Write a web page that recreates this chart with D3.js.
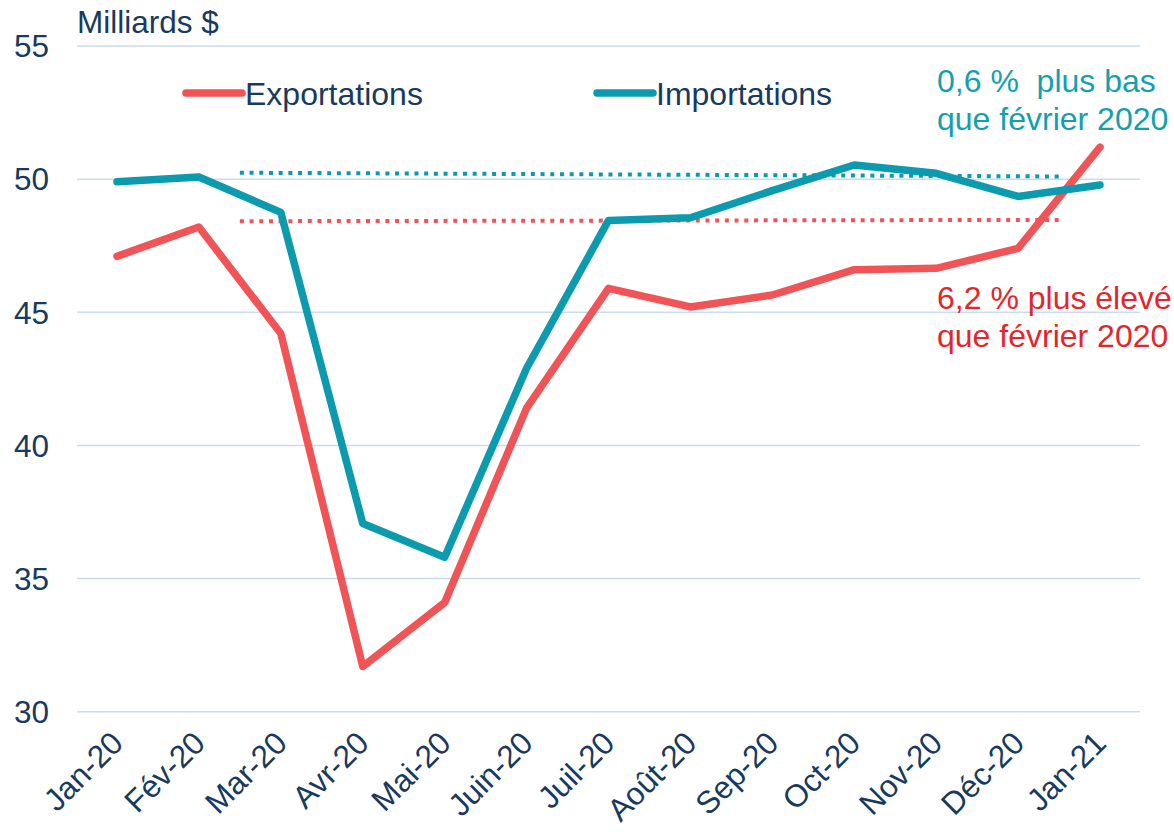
<!DOCTYPE html>
<html>
<head>
<meta charset="utf-8">
<script src="https://cdn.jsdelivr.net/npm/d3@7"></script>
<style>
  body { margin: 0; background: #fff; }
  text { font-family: "Liberation Sans", Arial, sans-serif; white-space: pre; }
</style>
</head>
<body>
<svg id="chart" width="1174" height="832"></svg>
<script>
"use strict";

// Months (x categories)
const months = ["Jan-20", "Fév-20", "Mar-20", "Avr-20", "Mai-20", "Juin-20", "Juil-20",
  "Août-20", "Sep-20", "Oct-20", "Nov-20", "Déc-20", "Jan-21"];

// Monthly values, billions of dollars
const exportations = [47.1, 48.2, 44.2, 31.7, 34.1, 41.4, 45.9, 45.2, 45.65, 46.6, 46.65, 47.4, 51.2];
const importations = [49.9, 50.08, 48.75, 37.07, 35.8, 42.9, 48.45, 48.55, 49.57, 50.53, 50.22, 49.35, 49.78];

// February 2020 reference levels (dotted), start / end values
const exportRef = [48.42, 48.47];
const importRef = [50.24, 50.1];
const refSpan = [1.5, 11.5]; // month index range of the dotted lines

const yTicks = [30, 35, 40, 45, 50, 55];

const colors = {
  exp: "#f05456",
  imp: "#0b9aae",
  expText: "#e3262b",
  impText: "#139fb0",
  text: "#173a5e",
  grid: "#c6ddf1"
};

const svg = d3.select("#chart");

const x = d3.scalePoint()
  .domain(d3.range(months.length))
  .range([117, 1100]);

const y = d3.scaleLinear()
  .domain([30, 55])
  .range([711.7, 46]);

// Grid lines
svg.append("g")
  .selectAll("line")
  .data(yTicks)
  .enter()
  .append("line")
    .attr("x1", 77)
    .attr("x2", 1140)
    .attr("y1", d => y(d))
    .attr("y2", d => y(d))
    .attr("stroke", colors.grid)
    .attr("stroke-width", 1.5);

// Y axis labels
svg.append("g")
  .selectAll("text")
  .data(yTicks)
  .enter()
  .append("text")
    .attr("x", 49)
    .attr("y", d => y(d))
    .attr("dy", "0.36em")
    .attr("text-anchor", "end")
    .attr("font-size", 31.5)
    .attr("fill", colors.text)
    .text(d => d);

svg.append("text")
  .attr("x", 77)
  .attr("y", 33)
  .attr("font-size", 31.5)
  .attr("fill", colors.text)
  .text("Milliards $");

// X axis labels, rotated
svg.append("g")
  .selectAll("text")
  .data(months)
  .enter()
  .append("text")
    .attr("transform", (d, i) => "translate(" + (x(i) + 8) + ",745) rotate(-45)")
    .attr("text-anchor", "end")
    .attr("font-size", 31.5)
    .attr("fill", colors.text)
    .text(d => d);

// Dotted reference lines
let refLine = (vals) => [[refSpan[0], vals[0]], [refSpan[1], vals[1]]];
let xLin = d3.scaleLinear().domain([0, months.length - 1]).range(x.range());

[[exportRef, colors.exp], [importRef, colors.imp]].forEach(([vals, c]) => {
  svg.append("path")
    .attr("d", d3.line().x(d => xLin(d[0])).y(d => y(d[1]))(refLine(vals)))
    .attr("fill", "none")
    .attr("stroke", c)
    .attr("stroke-width", 4)
    .attr("stroke-dasharray", "4,5.7");
});

// Series lines
let line = d3.line()
  .x((d, i) => x(i))
  .y(d => y(d));

[[exportations, colors.exp], [importations, colors.imp]].forEach(([vals, c]) => {
  svg.append("path")
    .attr("d", line(vals))
    .attr("fill", "none")
    .attr("stroke", c)
    .attr("stroke-width", 7.5)
    .attr("stroke-linejoin", "round")
    .attr("stroke-linecap", "round");
});

// Legend
let legend = [
  { name: "Exportations", color: colors.exp, x: 186 },
  { name: "Importations", color: colors.imp, x: 597 }
];

let lg = svg.append("g")
  .selectAll("g")
  .data(legend)
  .enter()
  .append("g")
    .attr("transform", d => "translate(" + d.x + ",93)");

lg.append("line")
  .attr("x1", 0)
  .attr("x2", 56)
  .attr("stroke", d => d.color)
  .attr("stroke-width", 7.5)
  .attr("stroke-linecap", "round");

lg.append("text")
  .attr("x", 59)
  .attr("dy", "0.36em")
  .attr("font-size", 32)
  .attr("fill", colors.text)
  .text(d => d.name);

// Annotations
let notes = [
  { lines: ["0,6 %  plus bas", "que février 2020"], color: colors.impText, y: 92 },
  { lines: ["6,2 % plus élevé", "que février 2020"], color: colors.expText, y: 309 }
];

notes.forEach(n => {
  svg.append("g")
    .selectAll("text")
    .data(n.lines)
    .enter()
    .append("text")
      .attr("x", 937)
      .attr("y", (d, i) => n.y + i * 38)
      .attr("font-size", 32)
      .attr("fill", n.color)
      .text(d => d);
});
</script>
</body>
</html>
